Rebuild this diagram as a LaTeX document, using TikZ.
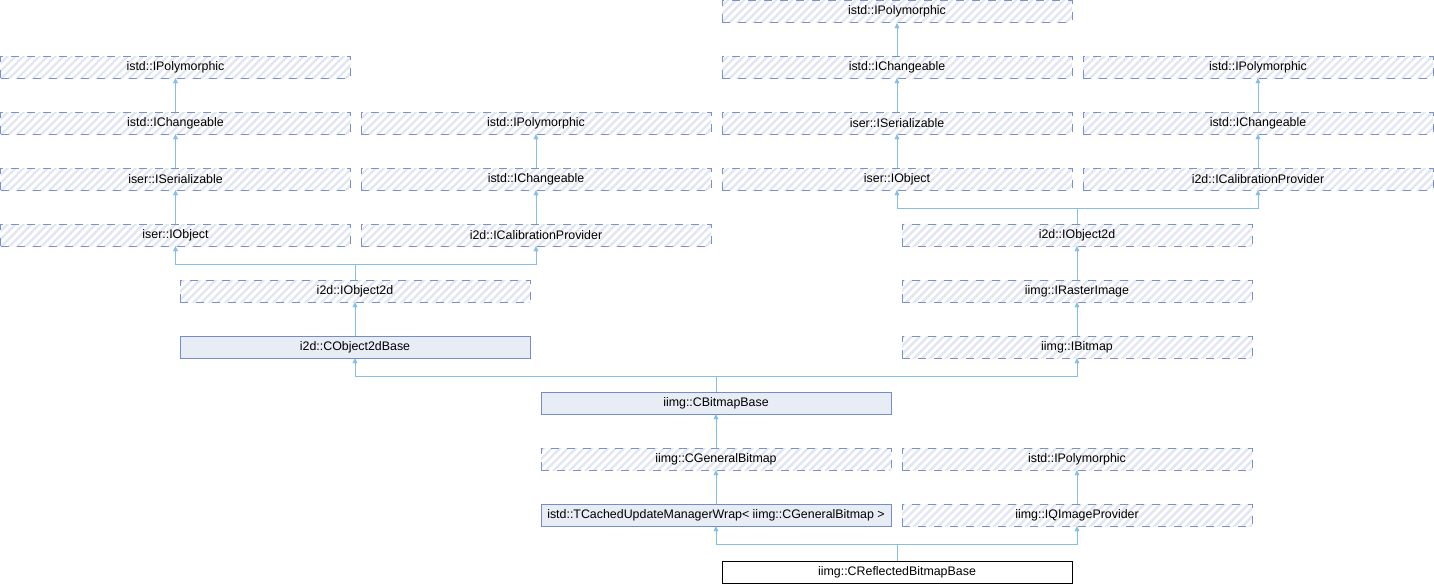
\documentclass[tikz,border=0pt]{standalone}
\usepackage{fontspec}
\setmainfont{Liberation Sans}
\usetikzlibrary{arrows.meta}
\usetikzlibrary{patterns.meta}

\definecolor{hatchline}{RGB}{226,230,241}
\definecolor{dashframe}{RGB}{122,145,202}
\definecolor{solidframe}{RGB}{118,140,196}
\definecolor{solidfill}{RGB}{232,236,245}
\definecolor{inherit}{RGB}{135,190,228}

\begin{document}
\begin{tikzpicture}[x=1pt,y=-1pt,
box/.style={minimum width=350pt,minimum height=22pt,inner sep=0pt,font=\fontsize{12.4}{14}\selectfont},
iface/.style={box,draw=dashframe,dash pattern=on 8pt off 8pt,
  pattern={Lines[angle=45,distance=5.66pt,line width=2.4pt]},pattern color=hatchline},
klass/.style={box,draw=solidframe,fill=solidfill},
leaf/.style={box,draw=black,fill=white},
inh/.style={draw=inherit,-{Triangle[width=5pt,length=5pt]}},
bar/.style={draw=inherit}]
\useasboundingbox (0,0) rectangle (1434,584);

% right hand tower
\node[iface] (poly1) at (897,11) {istd::IPolymorphic};
\node[iface] (change1) at (897,67) {istd::IChangeable};
\node[iface] (serial1) at (897,123) {iser::ISerializable};
\node[iface] (object1) at (897,179) {iser::IObject};
\node[iface] (poly2) at (1258,67) {istd::IPolymorphic};
\node[iface] (change2) at (1258,123) {istd::IChangeable};
\node[iface] (calib2) at (1258,179) {i2d::ICalibrationProvider};
\node[iface] (obj2dF) at (1077,235) {i2d::IObject2d};
\node[iface] (raster) at (1077,291) {iimg::IRasterImage};
\node[iface] (ibitmap) at (1077,347) {iimg::IBitmap};

% left hand tower
\node[iface] (poly3) at (175.5,67) {istd::IPolymorphic};
\node[iface] (change3) at (175.5,123) {istd::IChangeable};
\node[iface] (serial3) at (175.5,179) {iser::ISerializable};
\node[iface] (object3) at (175.5,235) {iser::IObject};
\node[iface] (poly4) at (536,123) {istd::IPolymorphic};
\node[iface] (change4) at (536,179) {istd::IChangeable};
\node[iface] (calib4) at (536,235) {i2d::ICalibrationProvider};
\node[iface] (obj2dC) at (355,291) {i2d::IObject2d};
\node[klass] (obj2dbase) at (355,347) {i2d::CObject2dBase};

% bottom
\node[klass] (bitmapbase) at (716,403) {iimg::CBitmapBase};
\node[iface] (general) at (716,459) {iimg::CGeneralBitmap};
\node[klass] (cached) at (716,515) {istd::TCachedUpdateManagerWrap< iimg::CGeneralBitmap >};
\node[iface] (poly5) at (1077,459) {istd::IPolymorphic};
\node[iface] (qimage) at (1077,515) {iimg::IQImageProvider};
\node[leaf] (reflected) at (897,572) {iimg::CReflectedBitmapBase};

% single parents
\foreach \p/\c in {poly1/change1, change1/serial1, serial1/object1,
  poly2/change2, change2/calib2, poly3/change3, change3/serial3,
  serial3/object3, poly4/change4, change4/calib4, obj2dF/raster,
  raster/ibitmap, obj2dC/obj2dbase, bitmapbase/general, general/cached,
  poly5/qimage}
  \draw[inh] (\c.north) -- (\p.south);

% two parents
\coordinate (joinF) at (1077,208);
\draw[bar] (obj2dF.north) -- (joinF);
\draw[inh] (joinF) -| (object1.south);
\draw[inh] (joinF) -| (calib2.south);
\coordinate (joinC) at (355,264);
\draw[bar] (obj2dC.north) -- (joinC);
\draw[inh] (joinC) -| (object3.south);
\draw[inh] (joinC) -| (calib4.south);
\coordinate (joinD) at (716,376);
\draw[bar] (bitmapbase.north) -- (joinD);
\draw[inh] (joinD) -| (obj2dbase.south);
\draw[inh] (joinD) -| (ibitmap.south);
\coordinate (joinE) at (897,544);
\draw[bar] (reflected.north) -- (joinE);
\draw[inh] (joinE) -| (cached.south);
\draw[inh] (joinE) -| (qimage.south);
\end{tikzpicture}
\end{document}
